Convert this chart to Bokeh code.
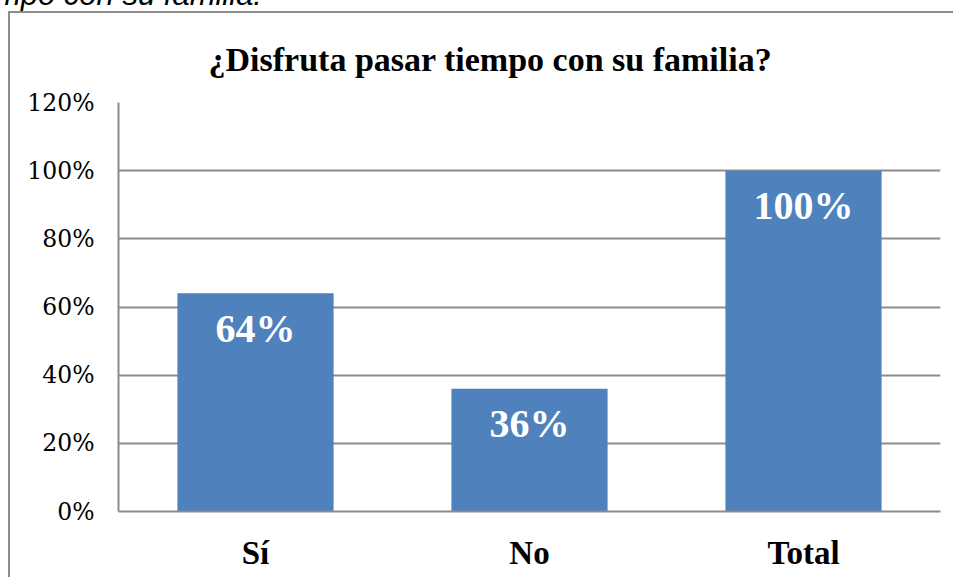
from bokeh.plotting import figure
from bokeh.models import ColumnDataSource, FactorRange, Range1d, FixedTicker, Div
from bokeh.layouts import column
from bokeh.core.properties import value
from bokeh.embed import file_html
from bokeh.resources import INLINE

# ---- data ----
categories = ["Sí", "No", "Total"]
values = [0.64, 0.36, 1.00]
value_labels = ["64%", "36%", "100%"]
y_ticks = [0.0, 0.2, 0.4, 0.6, 0.8, 1.0, 1.2]
y_tick_labels = ["0%", "20%", "40%", "60%", "80%", "100%", "120%"]
title_text = "¿Disfruta pasar tiempo con su familia?"
caption_text = "tiempo con su familia."

GRAY = "#8c8c8c"
BLUE = "#4f81bd"

src = ColumnDataSource(dict(cat=categories, val=values, lab=value_labels))

caption = Div(
    text=('<span style="position:absolute; right:0px; top:-21px; white-space:nowrap; '
          'font-family:\'Liberation Sans\'; font-style:italic; font-size:31px; '
          'line-height:31px; color:black;">' + caption_text + '</span>'),
    width=262, height=11,
    styles={"position": "relative", "overflow": "hidden", "margin": "0px"})

p = figure(width=945, height=566, output_backend="svg", toolbar_location=None,
           x_range=FactorRange(*categories, range_padding=0),
           y_range=Range1d(0, 1.2),
           min_border_left=108, min_border_right=15,
           min_border_top=88, min_border_bottom=68,
           background_fill_color="white", border_fill_color="white")
p.styles = {"margin-left": "8px",
            "border-left": "2px solid " + GRAY,
            "border-top": "2px solid " + GRAY}
p.outline_line_color = None

p.title.text = title_text
p.title.align = "left"
p.title.offset = 90
p.title.standoff = 50
p.title.text_font = "Liberation Serif"
p.title.text_font_style = "bold"
p.title.text_font_size = "34px"
p.title.text_color = "black"

p.vbar(x="cat", top="val", width=0.57, source=src, fill_color=BLUE, line_color=None)

p.text(x="cat", y="val", text="lab", source=src, y_offset=35,
       text_align="center", text_baseline="alphabetic",
       text_font=value("Liberation Serif"), text_font_style="bold",
       text_font_size="40px", text_color="white")

# axes
p.yaxis.ticker = FixedTicker(ticks=y_ticks)
p.yaxis.major_label_overrides = {t: l for t, l in zip(y_ticks, y_tick_labels)}
p.yaxis.major_label_text_font = "DejaVu Serif"
p.yaxis.major_label_text_font_size = "23.5px"
p.yaxis.major_label_text_color = "black"
p.yaxis.major_label_standoff = 18
p.yaxis.major_tick_line_color = None
p.yaxis.minor_tick_line_color = None
p.yaxis.axis_line_color = GRAY
p.yaxis.axis_line_width = 2

p.xaxis.major_label_text_font = "Liberation Serif"
p.xaxis.major_label_text_font_style = "bold"
p.xaxis.major_label_text_font_size = "33px"
p.xaxis.major_label_text_color = "black"
p.xaxis.major_label_standoff = 17
p.xaxis.major_tick_line_color = None
p.xaxis.axis_line_color = GRAY
p.xaxis.axis_line_width = 2

p.xgrid.grid_line_color = None
p.ygrid.grid_line_color = GRAY
p.ygrid.grid_line_width = 2

layout = column(caption, p, spacing=0)

open("out.html", "w").write(file_html(layout, INLINE))
